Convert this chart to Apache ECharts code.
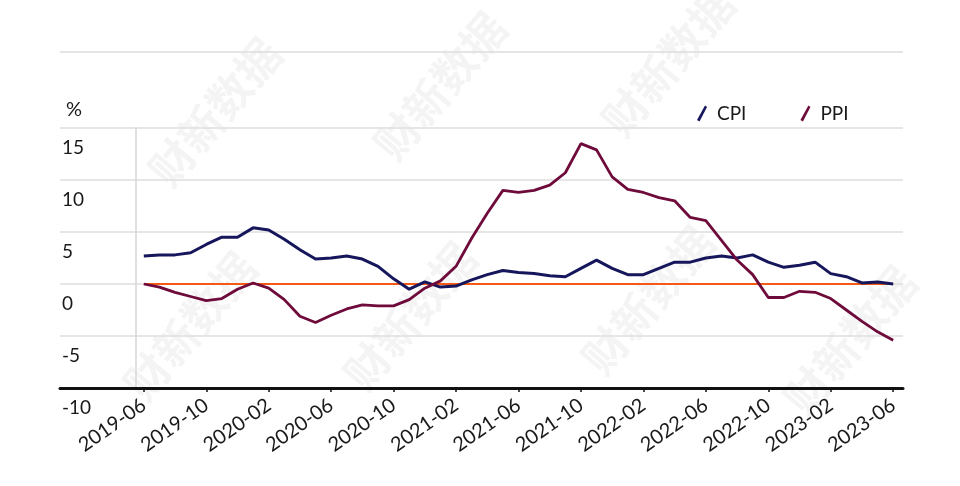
<!DOCTYPE html>
<html>
<head>
<meta charset="utf-8">
<script src="https://cdn.jsdelivr.net/npm/echarts@6/dist/echarts.min.js"></script>
<style>html,body{margin:0;padding:0;background:#fff;}#c{width:960px;height:486px;}</style>
</head>
<body>
<div id="c"></div>
<script>
var months = ["2019-06","2019-07","2019-08","2019-09","2019-10","2019-11","2019-12",
"2020-01","2020-02","2020-03","2020-04","2020-05","2020-06","2020-07","2020-08","2020-09","2020-10","2020-11","2020-12",
"2021-01","2021-02","2021-03","2021-04","2021-05","2021-06","2021-07","2021-08","2021-09","2021-10","2021-11","2021-12",
"2022-01","2022-02","2022-03","2022-04","2022-05","2022-06","2022-07","2022-08","2022-09","2022-10","2022-11","2022-12",
"2023-01","2023-02","2023-03","2023-04","2023-05","2023-06"];
var cpi = [2.7,2.8,2.8,3.0,3.8,4.5,4.5,
5.4,5.2,4.3,3.3,2.4,2.5,2.7,2.4,1.7,0.5,-0.5,0.2,
-0.3,-0.2,0.4,0.9,1.3,1.1,1.0,0.8,0.7,1.5,2.3,1.5,
0.9,0.9,1.5,2.1,2.1,2.5,2.7,2.5,2.8,2.1,1.6,1.8,
2.1,1.0,0.7,0.1,0.2,0.0];
var ppi = [0.0,-0.3,-0.8,-1.2,-1.6,-1.4,-0.5,
0.1,-0.4,-1.5,-3.1,-3.7,-3.0,-2.4,-2.0,-2.1,-2.1,-1.5,-0.4,
0.3,1.7,4.4,6.8,9.0,8.8,9.0,9.5,10.7,13.5,12.9,10.3,
9.1,8.8,8.3,8.0,6.4,6.1,4.2,2.3,0.9,-1.3,-1.3,-0.7,
-0.8,-1.4,-2.5,-3.6,-4.6,-5.4];
var yTicks = {min:-10, max:15, interval:5};
var watermarkText = "财新数据";

var chart = echarts.init(document.getElementById('c'));
var wmPos = [[215,112],[440,86],[668,62],[190,326],[410,316],[648,300],[850,340]];
var graphics = wmPos.map(function(p){
  return {type:'text', x:p[0], y:p[1], rotation:0.87, z:-1, silent:true,
    style:{text:watermarkText, font:'bold 44px "Noto Sans CJK SC"', fill:'rgba(0,0,0,0.045)', align:'center', verticalAlign:'middle'}};
});
graphics.push({type:'line', shape:{x1:60,y1:52,x2:903,y2:52}, style:{stroke:'#dcdcdc', lineWidth:1.5}, silent:true});

var font = 'Lato';
chart.setOption({
  animation:false,
  title:{text:'%', left:61, top:95, textStyle:{fontFamily:font, fontSize:20, fontWeight:'normal', color:'#1a1a1a'}},
  legend:{left:692, top:99, itemWidth:10, itemHeight:16, itemGap:54,
    textStyle:{fontFamily:font, fontSize:19, color:'#1a1a1a', padding:[0,0,0,5]},
    data:[{name:'CPI', icon:'path://M8,0 L10,1.5 L2.5,16 L0,14.5 Z'},{name:'PPI', icon:'path://M8,0 L10,1.5 L2.5,16 L0,14.5 Z'}]},
  graphic:graphics,
  grid:[
    {left:60, right:57, top:128, bottom:98},
    {left:136, right:59, top:128, bottom:98}
  ],
  xAxis:[
    {gridIndex:0, type:'value', min:0, max:1, position:'bottom',
      axisLine:{show:true, onZero:false, lineStyle:{color:'#111', width:3}},
      axisTick:{show:false}, axisLabel:{show:false}, splitLine:{show:false}},
    {gridIndex:1, type:'category', data:months, boundaryGap:true,
      axisLine:{show:false, onZero:false},
      axisTick:{show:true, interval:3, alignWithLabel:true, length:4, lineStyle:{color:'#111', width:1.5}},
      axisLabel:{interval:3, rotate:35, margin:15, fontFamily:font, fontSize:20, color:'#1a1a1a'}}
  ],
  yAxis:[
    {gridIndex:0, type:'value', min:yTicks.min, max:yTicks.max, interval:yTicks.interval,
      axisLine:{show:false}, axisTick:{show:false},
      splitLine:{show:true, lineStyle:{color:'#dedede', width:1.5}},
      axisLabel:{inside:true, margin:2, align:'left', verticalAlign:'top', padding:[10,0,0,0],
        fontFamily:font, fontSize:19, color:'#1a1a1a'}},
    {gridIndex:1, type:'value', min:yTicks.min, max:yTicks.max, interval:yTicks.interval,
      axisLine:{show:true, lineStyle:{color:'#d6d6d6', width:1.5}}, axisTick:{show:false},
      axisLabel:{show:false}, splitLine:{show:false}}
  ],
  series:[
    {name:'CPI', type:'line', xAxisIndex:1, yAxisIndex:1, data:cpi, symbol:'none', z:3,
      lineStyle:{color:'#16165c', width:3}, itemStyle:{color:'#16165c'},
      markLine:{silent:true, symbol:'none', label:{show:false}, z:1,
        lineStyle:{color:'#f45a14', width:2, type:'solid'},
        data:[[{coord:[months[0],0]},{coord:[months[months.length-1],0]}]]}},
    {name:'PPI', type:'line', xAxisIndex:1, yAxisIndex:1, data:ppi, symbol:'none', z:3,
      lineStyle:{color:'#6e0b3a', width:2.8}, itemStyle:{color:'#6e0b3a'}}
  ]
});
</script>
</body>
</html>
